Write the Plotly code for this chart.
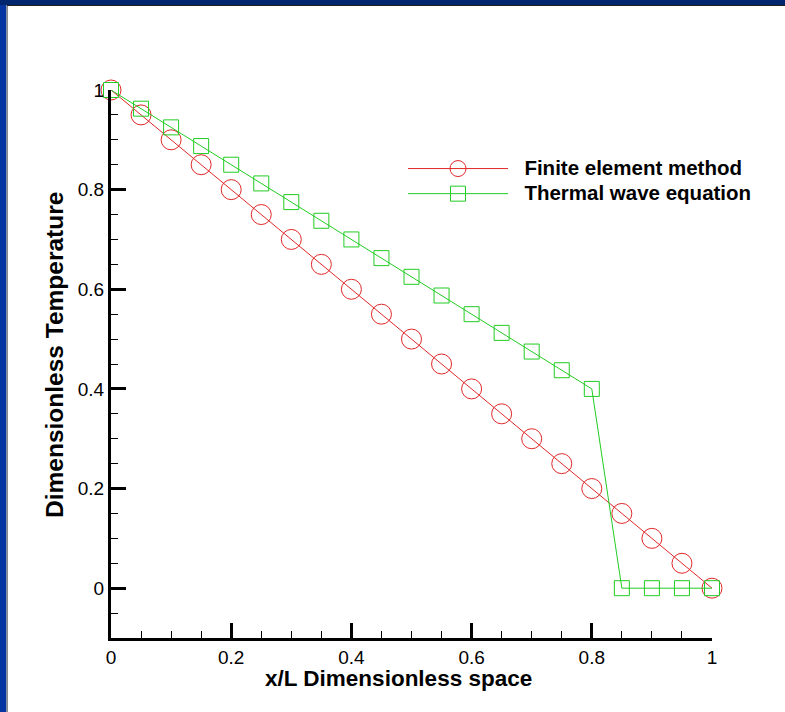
import plotly.graph_objects as go

x_fem = [0, 0.05, 0.1, 0.15, 0.2, 0.25, 0.3, 0.35, 0.4, 0.45, 0.5,
         0.55, 0.6, 0.65, 0.7, 0.75, 0.8, 0.85, 0.9, 0.95, 1.0]
y_fem = [1.0, 0.95, 0.9, 0.85, 0.8, 0.75, 0.7, 0.65, 0.6, 0.55, 0.5,
         0.45, 0.4, 0.35, 0.3, 0.25, 0.2, 0.15, 0.1, 0.05, 0.0]

x_twe = [0, 0.05, 0.1, 0.15, 0.2, 0.25, 0.3, 0.35, 0.4, 0.45, 0.5,
         0.55, 0.6, 0.65, 0.7, 0.75, 0.8, 0.85, 0.9, 0.95, 1.0]
y_twe = [1.0, 0.9625, 0.925, 0.8875, 0.85, 0.8125, 0.775, 0.7375, 0.7, 0.6625, 0.625,
         0.5875, 0.55, 0.5125, 0.475, 0.4375, 0.4, 0.0, 0.0, 0.0, 0.0]

y_ticks = [0, 0.2, 0.4, 0.6, 0.8, 1]
y_labels = ["0", "0.2", "0.4", "0.6", "0.8", "1"]
x_ticks = [0, 0.2, 0.4, 0.6, 0.8, 1]
x_labels = ["0", "0.2", "0.4", "0.6", "0.8", "1"]

series_names = ["Finite element method", "Thermal wave equation"]
x_title = "x/L Dimensionless space"
y_title = "Dimensionless Temperature"

RED = "#e02828"
GREEN = "#22cc22"

def legend_label(s):
    return "<span style='font-size:20.5px'>\u00a0\u00a0<b>" + s + "</b></span>"

fig = go.Figure()
fig.add_trace(go.Scatter(
    x=x_fem, y=y_fem, mode="lines+markers", name=legend_label(series_names[0]),
    line=dict(color=RED, width=1), cliponaxis=False,
    marker=dict(symbol="circle-open", size=20, color=RED, line=dict(width=1, color=RED)),
))
fig.add_trace(go.Scatter(
    x=x_twe, y=y_twe, mode="lines+markers", name=legend_label(series_names[1]),
    line=dict(color=GREEN, width=1), cliponaxis=False,
    marker=dict(symbol="square-open", size=15, color=GREEN, line=dict(width=1, color=GREEN)),
))

L, R, T, B = 111, 73, 90, 74
W, H = 785, 712
pw, ph = W - L - R, H - T - B

def px(xp):
    return (xp - L) / pw

def py(yp):
    return (H - B - yp) / ph

shapes = [
    dict(type="rect", xref="paper", yref="paper", x0=px(-2), x1=px(6.5), y0=py(H + 2), y1=py(-2),
         fillcolor="#0535a0", line=dict(width=0), layer="below"),
    dict(type="rect", xref="paper", yref="paper", x0=px(6.5), x1=px(8), y0=py(H + 2), y1=py(5),
         fillcolor="#8a8a8a", line=dict(width=0), layer="below"),
    dict(type="rect", xref="paper", yref="paper", x0=px(-2), x1=px(W + 2), y0=py(5), y1=py(-2),
         fillcolor="#00256f", line=dict(width=0), layer="below"),
    dict(type="rect", xref="paper", yref="paper", x0=px(7), x1=px(W + 2), y0=py(6), y1=py(5),
         fillcolor="#222222", line=dict(width=0), layer="below"),
]

annotations = [
    dict(text="<b>" + x_title + "</b>", xref="paper", yref="paper", x=px(398), y=py(678),
         xanchor="center", yanchor="middle", showarrow=False, font=dict(size=22.5)),
    dict(text="<b>" + y_title + "</b>", xref="paper", yref="paper", x=px(54), y=py(355),
         xanchor="center", yanchor="middle", showarrow=False, textangle=-90, font=dict(size=24.5)),
]

fig.update_layout(
    width=W, height=H,
    margin=dict(l=L, r=R, t=T, b=B),
    paper_bgcolor="white", plot_bgcolor="white",
    font=dict(family="Liberation Sans, Arial, sans-serif", color="black", size=19),
    shapes=shapes,
    annotations=annotations,
    showlegend=True,
    legend=dict(
        x=px(403), y=py(151), xanchor="left", yanchor="top",
        bgcolor="rgba(0,0,0,0)", itemwidth=100,
        font=dict(size=17, family="Liberation Sans, Arial, sans-serif"),
        tracegroupgap=0,
    ),
    xaxis=dict(
        range=[0, 1], showgrid=False, zeroline=False,
        showline=True, linecolor="black", linewidth=3, mirror=False,
        tickmode="array", tickvals=x_ticks, ticktext=x_labels,
        ticks="inside", ticklen=15, tickwidth=3, tickcolor="black",
        minor=dict(dtick=0.05, ticks="inside", ticklen=7, tickwidth=1, tickcolor="black", showgrid=False),
        tickfont=dict(size=19),
    ),
    yaxis=dict(
        range=[-0.1, 1], showgrid=False, zeroline=False,
        showline=True, linecolor="black", linewidth=3, mirror=False,
        tickmode="array", tickvals=y_ticks, ticktext=y_labels,
        ticks="inside", ticklen=15, tickwidth=3, tickcolor="black",
        minor=dict(tick0=0, dtick=0.05, ticks="inside", ticklen=7, tickwidth=1, tickcolor="black", showgrid=False),
        tickfont=dict(size=19),
    ),
)

fig.write_html("out.html", config={"displayModeBar": False},
               post_script="document.body.style.margin='0';")
